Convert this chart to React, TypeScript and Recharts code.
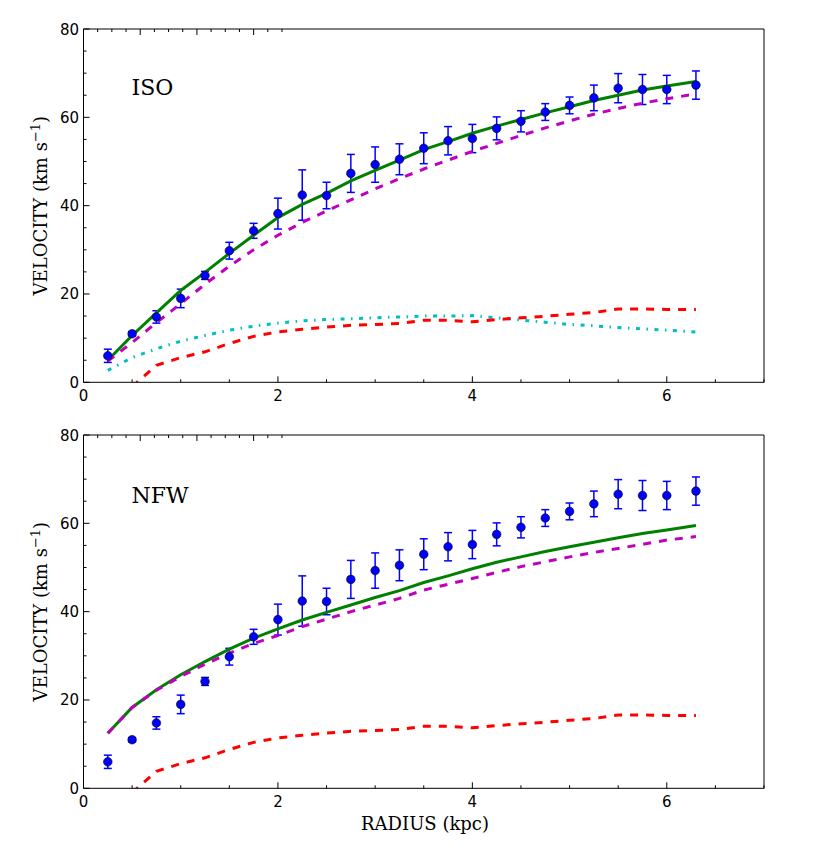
import React from "react";
import { ComposedChart, Line, Scatter, ErrorBar, XAxis, YAxis } from "recharts";

// radius of each annulus (kpc)
const radius = [
  0.25, 0.5, 0.75, 1.0, 1.25, 1.5, 1.75, 2.0, 2.25, 2.5, 2.75, 3.0, 3.25,
  3.5, 3.75, 4.0, 4.25, 4.5, 4.75, 5.0, 5.25, 5.5, 5.75, 6.0, 6.3,
];

// observed rotation curve
const vObs = [
  6.0, 11.0, 14.8, 19.0, 24.2, 29.8, 34.3, 38.2, 42.4, 42.3, 47.3, 49.3, 50.5,
  53.0, 54.7, 55.2, 57.5, 59.1, 61.2, 62.7, 64.4, 66.6, 66.3, 66.3, 67.3,
];
const vErr = [
  1.5, 0.5, 1.4, 2.1, 0.9, 1.9, 1.7, 3.5, 5.7, 3.0, 4.3, 4.0, 3.5, 3.5, 3.2,
  3.2, 2.6, 2.4, 1.9, 1.9, 2.9, 3.3, 3.4, 3.2, 3.2,
];

// model components
const isoTotal = [
  5.0, 10.6, 15.7, 20.8, 24.9, 29.2, 33.3, 37.3, 40.3, 42.8, 45.6, 48.0, 50.3,
  52.7, 54.5, 56.4, 58.0, 59.5, 61.0, 62.4, 63.8, 65.0, 66.2, 67.1, 68.1,
];
const isoHalo = [
  4.8, 9.0, 13.5, 17.8, 22.2, 26.3, 30.0, 33.3, 36.2, 38.8, 41.3, 43.8, 46.1,
  48.3, 50.3, 52.3, 54.1, 55.9, 57.6, 59.2, 60.7, 62.0, 63.2, 64.2, 65.3,
];
const stars = [
  2.7, 5.6, 7.6, 9.3, 10.6, 11.8, 12.7, 13.4, 13.9, 14.2, 14.4, 14.6, 14.8,
  15.0, 15.0, 15.1, 14.6, 14.1, 13.6, 13.1, 12.8, 12.4, 12.1, 11.8, 11.4,
];
const gas = [
  null, -1.0, 3.85, 5.6, 6.9, 8.8, 10.4, 11.4, 12.0, 12.5, 12.9, 13.1, 13.3,
  14.05, 14.05, 13.7, 14.2, 14.6, 14.95, 15.4, 15.8, 16.6, 16.6, 16.5, 16.5,
];
const nfwTotal = [
  12.45, 18.3, 22.3, 25.7, 28.7, 31.5, 34.0, 36.1, 38.1, 39.85, 41.5, 43.2,
  44.75, 46.6, 48.1, 49.7, 51.2, 52.4, 53.6, 54.7, 55.7, 56.75, 57.7, 58.5, 59.5,
];
const nfwHalo = [
  12.45, 18.3, 22.2, 25.3, 28.1, 30.6, 32.8, 34.6, 36.6, 38.3, 40.0, 41.5,
  43.0, 44.9, 46.2, 47.5, 48.9, 50.2, 51.3, 52.4, 53.4, 54.3, 55.25, 56.2, 57.0,
];

const xTicks = [0, 0.5, 1, 1.5, 2, 2.5, 3, 3.5, 4, 4.5, 5, 5.5, 6, 6.5, 7];
const xMajor = [0, 2, 4, 6];
const yTicks = [0, 5, 10, 15, 20, 25, 30, 35, 40, 45, 50, 55, 60, 65, 70, 75, 80];
const yMajor = [0, 20, 40, 60, 80];

const rows = radius.map((r, i) => ({
  r,
  vObs: vObs[i],
  vErr: vErr[i],
  isoTotal: isoTotal[i],
  isoHalo: isoHalo[i],
  stars: stars[i],
  gas: gas[i],
  nfwTotal: nfwTotal[i],
  nfwHalo: nfwHalo[i],
}));

const TICK_FONT = "DejaVu Sans";
const LABEL_FONT = "DejaVu Serif";
const MAJOR = 6;
const MINOR = 3;

const BottomTick = (p: any) => {
  const major = xMajor.includes(p.payload.value);
  return (
    <g>
      <line x1={p.x} x2={p.x} y1={p.y} y2={p.y - (major ? MAJOR : MINOR)} stroke="#000" />
      {major && (
        <text x={p.x} y={p.y + 18.5} textAnchor="middle" fontSize={15} style={{ fontFamily: TICK_FONT }} fill="#000">
          {p.payload.value}
        </text>
      )}
    </g>
  );
};

const TopTick = (p: any) => {
  const major = xMajor.includes(p.payload.value);
  return <line x1={p.x} x2={p.x} y1={p.y} y2={p.y + (major ? MAJOR : MINOR)} stroke="#000" />;
};

const LeftTick = (p: any) => {
  const major = yMajor.includes(p.payload.value);
  return (
    <g>
      <line x1={p.x} x2={p.x + (major ? MAJOR : MINOR)} y1={p.y} y2={p.y} stroke="#000" />
      {major && (
        <text x={p.x - 4.5} y={p.y + 5.5} textAnchor="end" fontSize={15} style={{ fontFamily: TICK_FONT }} fill="#000">
          {p.payload.value}
        </text>
      )}
    </g>
  );
};

const RightTick = (p: any) => {
  const major = yMajor.includes(p.payload.value);
  return <line x1={p.x} x2={p.x - (major ? MAJOR : MINOR)} y1={p.y} y2={p.y} stroke="#000" />;
};

const ObsDot = (p: any) => (
  <circle cx={p.cx} cy={p.cy} r={4.3} fill="#0000ff" stroke="#000" strokeWidth={0.6} />
);

type PanelProps = {
  title: string;
  titleY: number;
  total: string;
  halo: string;
  showStars: boolean;
  showXLabel: boolean;
  height: number;
  top: number;
  bottom: number;
};

const PLOT_H = 353.3;

const Panel = ({ title, titleY, total, halo, showStars, showXLabel, height, top, bottom }: PanelProps) => {
  const midY = top + PLOT_H / 2;
  // each axis takes 1px of the margin
  return (
    <ComposedChart
      width={830}
      height={height}
      data={rows}
      margin={{ top: top - 1, right: 65, bottom: bottom - 1, left: 82.5 }}
    >
      <XAxis
        dataKey="r"
        type="number"
        domain={[0, 7]}
        ticks={xTicks}
        interval={0}
        height={1}
        tickSize={0}
        tickMargin={0}
        tickLine={false}
        tick={BottomTick}
        axisLine={{ stroke: "#000" }}
      />
      <XAxis
        xAxisId="top"
        orientation="top"
        type="number"
        domain={[0, 7]}
        ticks={xTicks}
        interval={0}
        height={1}
        tickSize={0}
        tickMargin={0}
        tickLine={false}
        tick={TopTick}
        axisLine={{ stroke: "#000" }}
      />
      <YAxis
        type="number"
        domain={[0, 80]}
        allowDataOverflow
        ticks={yTicks}
        interval={0}
        width={1}
        tickSize={0}
        tickMargin={0}
        tickLine={false}
        tick={LeftTick}
        axisLine={{ stroke: "#000" }}
      />
      <YAxis
        yAxisId="right"
        orientation="right"
        type="number"
        domain={[0, 80]}
        ticks={yTicks}
        interval={0}
        width={1}
        tickSize={0}
        tickMargin={0}
        tickLine={false}
        tick={RightTick}
        axisLine={{ stroke: "#000" }}
      />
      <Scatter dataKey="vObs" shape={ObsDot} isAnimationActive={false}>
        <ErrorBar dataKey="vErr" direction="y" width={4} stroke="#0000ff" strokeWidth={1.5} />
      </Scatter>
      <Line dataKey={total} stroke="#008000" strokeWidth={3} dot={false} isAnimationActive={false} />
      <Line dataKey={halo} stroke="#bf00bf" strokeWidth={3} strokeDasharray="8 8" dot={false} isAnimationActive={false} />
      {showStars && (
        <Line dataKey="stars" stroke="#00bfbf" strokeWidth={3} strokeDasharray="4 6.5 1.5 6.5" dot={false} isAnimationActive={false} />
      )}
      <Line dataKey="gas" stroke="#ff0000" strokeWidth={3} strokeDasharray="8 8" dot={false} isAnimationActive={false} />
      <text x={131.5} y={titleY} fontSize={22} style={{ fontFamily: LABEL_FONT }} fill="#000">
        {title}
      </text>
      <text
        x={47}
        y={midY}
        transform={`rotate(-90, 47, ${midY})`}
        textAnchor="middle"
        fontSize={18}
        style={{ fontFamily: LABEL_FONT }}
        fill="#000"
      >
        <tspan>VELOCITY (km s</tspan>
        <tspan dy={-7} fontSize={13}>−1</tspan>
        <tspan dy={7}>)</tspan>
      </text>
      {showXLabel && (
        <text x={425} y={height - 18} textAnchor="middle" fontSize={18} style={{ fontFamily: LABEL_FONT }} fill="#000">
          RADIUS (kpc)
        </text>
      )}
    </ComposedChart>
  );
};

const App = () => (
  <div style={{ position: "absolute", left: 0, top: 0, width: 830, height: 848, background: "#fff" }}>
    <Panel
      title="ISO"
      titleY={95}
      total="isoTotal"
      halo="isoHalo"
      showStars={true}
      showXLabel={false}
      height={415}
      top={29}
      bottom={32.7}
    />
    <Panel
      title="NFW"
      titleY={88}
      total="nfwTotal"
      halo="nfwHalo"
      showStars={false}
      showXLabel={true}
      height={433}
      top={20}
      bottom={59.7}
    />
  </div>
);

export default App;
